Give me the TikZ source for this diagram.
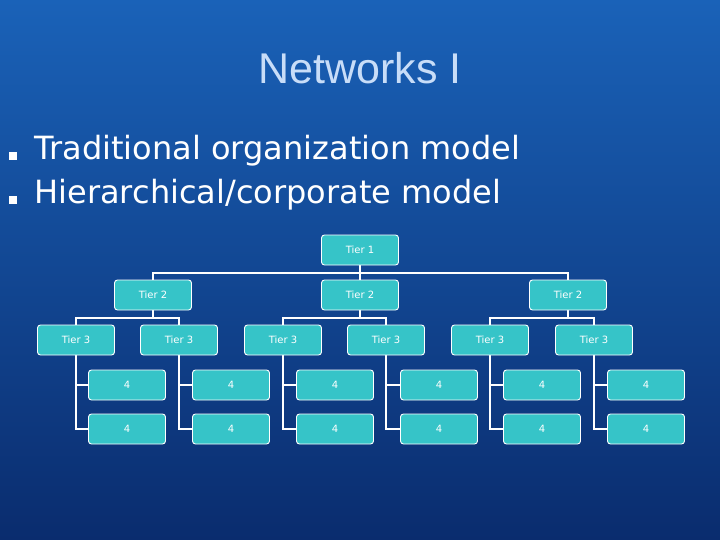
\documentclass[tikz,border=0pt]{standalone}
\usepackage{fontspec}
\setmainfont{DejaVu Sans}
\newfontfamily\titlefont{Liberation Sans}
\definecolor{bgtop}{HTML}{1A62B8}
\definecolor{bgbot}{HTML}{0A2C6E}
\definecolor{boxc}{HTML}{36C4C8}
\definecolor{titlec}{HTML}{C8DDF8}
\tikzset{
  org/.style={draw=white, line width=0.9pt, fill=boxc, rounded corners=3pt, minimum width=77pt, minimum height=30pt, text=white, font=\fontsize{10}{12}\selectfont, inner sep=0pt},
  conn/.style={draw=white, line width=1.4pt},
  bul/.style={fill=white, minimum size=8pt, inner sep=0pt}
}
\begin{document}
\begin{tikzpicture}[x=1pt,y=-1pt]
\shade[top color=bgtop, bottom color=bgbot] (0,0) rectangle (720,540);
\useasboundingbox (0,0) rectangle (720,540);
\node[font=\titlefont\fontsize{43}{48}\selectfont, text=titlec] (title) at (360,68) {Networks I};
\node[bul] (b1) at (13,156) {};
\node[bul] (b2) at (13,200) {};
\node[anchor=west, text=white, font=\fontsize{32}{36}\selectfont, xscale=1.0] (t1) at (31,151) {Traditional organization model};
\node[anchor=west, text=white, font=\fontsize{32}{36}\selectfont] (t2) at (31,195) {Hierarchical/corporate model};
\coordinate (A) at (360,250);
\coordinate (B1) at (153,295);
\coordinate (B2) at (360,295);
\coordinate (B3) at (568,295);
% connectors first (under boxes)
\draw[conn] (360,250) -- (360,273) coordinate (h0);
\draw[conn] (153,295) |- (h0) -| (568,295);
\draw[conn] (h0) -- (360,295);
\foreach \b/\l/\r in {153/76/179,360/283/386,568/490/594}{
  \draw[conn] (\b,295) -- (\b,318) coordinate (hh);
  \draw[conn] (\l,340) |- (hh) -| (\r,340);
}
\foreach \x/\y in {76/127,179/231,283/335,386/439,490/542,594/646}{
  \draw[conn] (\x,340) |- (\y,385);
  \draw[conn] (\x,340) |- (\y,429);
}
% boxes
\node[org] (nA) at (A) {Tier 1};
\node[org] (nB1) at (B1) {Tier 2};
\node[org] (nB2) at (B2) {Tier 2};
\node[org] (nB3) at (B3) {Tier 2};
\foreach \i/\x in {1/76,2/179,3/283,4/386,5/490,6/594}{
  \node[org] (C\i) at (\x,340) {Tier 3};
}
\foreach \i/\x in {1/127,2/231,3/335,4/439,5/542,6/646}{
  \node[org] (D\i) at (\x,385) {4};
  \node[org] (E\i) at (\x,429) {4};
}
\end{tikzpicture}
\end{document}
